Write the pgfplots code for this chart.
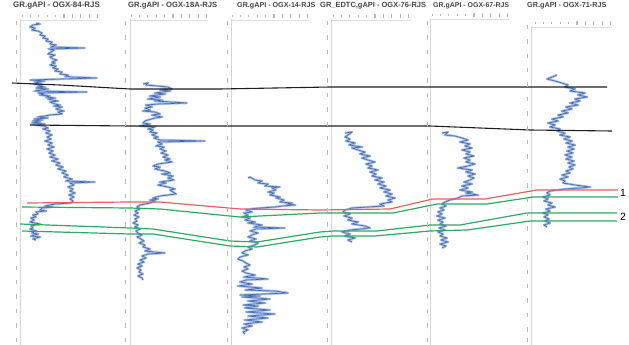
\documentclass[border=0pt]{standalone}
\usepackage{pgfplots}
\usepackage{pgfplotstable}
\pgfplotsset{compat=1.18}
\usepackage{fontspec}
\setmainfont{Liberation Sans}
\definecolor{grdark}{RGB}{62,100,172}
\definecolor{grlight}{RGB}{140,172,222}
\definecolor{corred}{RGB}{228,96,96}
\definecolor{corgreen}{RGB}{46,168,98}
\definecolor{corblack}{RGB}{30,30,30}
\definecolor{ttl}{RGB}{70,70,70}
\definecolor{trk}{RGB}{212,212,212}
\definecolor{dep}{RGB}{185,185,185}

\pgfplotstableread[row sep=\\]{x y\\
36 23\\ 40 24\\ 33 25\\ 30 27\\ 35 28\\ 32 30\\ 38 31\\ 42 33\\ 40 35\\ 45 36\\ 43 38\\ 48 39\\ 46 41\\ 52 42\\ 50 44\\ 56 45\\ 51 47\\ 85 48\\ 49 49\\ 54 50\\ 51 52\\ 48 54\\ 55 55\\ 50 57\\ 53 59\\ 57 60\\ 52 62\\ 55 63\\ 50 65\\ 56 66\\ 53 68\\ 58 69\\ 55 71\\ 62 72\\ 60 74\\ 68 75\\ 65 76\\ 72 77\\ 97 78\\ 62 79\\ 30 80\\ 45 81\\ 35 82\\ 40 83\\ 33 84\\ 42 85\\ 38 86\\ 45 87\\ 36 88\\ 48 89\\ 40 90\\ 35 91\\ 87 92\\ 38 93\\ 44 94\\ 40 95\\ 50 96\\ 46 97\\ 55 98\\ 48 99\\ 52 100\\ 58 101\\ 50 102\\ 55 104\\ 60 105\\ 54 106\\ 62 107\\ 56 109\\ 60 110\\ 64 111\\ 58 112\\ 62 114\\ 50 115\\ 45 116\\ 38 117\\ 48 118\\ 34 119\\ 42 120\\ 33 121\\ 40 122\\ 32 123\\ 45 124\\ 35 125\\ 44 126\\ 48 128\\ 43 129\\ 50 131\\ 46 133\\ 52 135\\ 47 137\\ 51 139\\ 45 141\\ 52 143\\ 48 145\\ 54 147\\ 47 149\\ 53 151\\ 49 153\\ 55 155\\ 50 157\\ 58 159\\ 52 161\\ 60 163\\ 56 165\\ 63 167\\ 58 169\\ 66 171\\ 62 173\\ 68 175\\ 64 177\\ 72 179\\ 66 181\\ 95 182\\ 70 183\\ 74 185\\ 68 187\\ 73 189\\ 70 191\\ 75 193\\ 69 195\\ 74 197\\ 70 199\\ 73 201\\ 71 203\\ 55 204\\ 50 205\\ 45 206\\ 52 207\\ 42 208\\ 40 210\\ 46 211\\ 36 212\\ 38 214\\ 33 215\\ 36 217\\ 31 218\\ 34 220\\ 30 222\\ 35 223\\ 40 224\\ 31 226\\ 33 228\\ 30 229\\ 36 231\\ 32 233\\ 38 234\\ 31 236\\ 40 237\\ 33 239\\ 36 240\\
}\wellA

\pgfplotstableread[row sep=\\]{x y\\
143 84\\ 148 83\\ 146 85\\ 168 87\\ 172 89\\ 160 90\\ 170 91\\ 155 93\\ 165 94\\ 150 96\\ 160 97\\ 148 99\\ 162 100\\ 155 101\\ 187 103\\ 158 104\\ 146 105\\ 152 107\\ 145 108\\ 150 110\\ 143 111\\ 155 112\\ 160 114\\ 152 115\\ 162 117\\ 155 118\\ 148 120\\ 145 121\\ 143 123\\ 150 124\\ 140 126\\ 155 127\\ 148 129\\ 153 130\\ 150 132\\ 157 133\\ 152 135\\ 158 137\\ 154 138\\ 160 140\\ 205 141\\ 158 142\\ 162 144\\ 156 146\\ 164 147\\ 160 149\\ 166 151\\ 161 153\\ 168 155\\ 163 157\\ 170 159\\ 165 160\\ 172 162\\ 158 164\\ 153 166\\ 160 167\\ 155 169\\ 165 171\\ 170 173\\ 162 174\\ 173 176\\ 168 178\\ 174 180\\ 160 182\\ 166 183\\ 158 185\\ 168 187\\ 175 189\\ 170 190\\ 173 192\\ 176 194\\ 160 196\\ 153 198\\ 158 199\\ 150 200\\ 155 201\\ 150 203\\ 140 205\\ 137 207\\ 140 209\\ 135 211\\ 138 213\\ 134 215\\ 139 217\\ 135 219\\ 137 221\\ 133 223\\ 138 225\\ 135 227\\ 140 229\\ 136 231\\ 138 233\\ 142 235\\ 137 237\\ 141 239\\ 144 241\\ 139 243\\ 145 245\\ 143 247\\ 150 249\\ 145 251\\ 165 253\\ 148 254\\ 142 256\\ 146 258\\ 140 260\\ 144 262\\ 138 264\\ 142 266\\ 137 268\\ 141 270\\ 139 272\\ 143 274\\ 138 276\\ 142 278\\ 143 280\\
}\wellB

\pgfplotstableread[row sep=\\]{x y\\
248 178\\ 250 177\\ 255 180\\ 262 181\\ 258 183\\ 268 184\\ 265 186\\ 280 187\\ 272 188\\ 276 190\\ 268 192\\ 274 193\\ 270 195\\ 280 197\\ 276 198\\ 284 200\\ 280 202\\ 292 203\\ 287 204\\ 295 205\\ 282 206\\ 275 207\\ 260 208\\ 250 209\\ 246 210\\ 252 212\\ 244 213\\ 248 215\\ 242 217\\ 250 218\\ 245 220\\ 255 222\\ 248 223\\ 262 225\\ 254 227\\ 285 228\\ 256 229\\ 250 231\\ 258 233\\ 252 235\\ 248 237\\ 256 239\\ 250 241\\ 258 243\\ 255 245\\ 248 247\\ 252 249\\ 245 251\\ 242 253\\ 248 255\\ 240 257\\ 238 259\\ 243 261\\ 246 263\\ 250 265\\ 244 267\\ 248 269\\ 242 271\\ 246 273\\ 255 275\\ 244 277\\ 268 279\\ 246 280\\ 240 282\\ 252 284\\ 238 286\\ 262 288\\ 245 290\\ 275 291\\ 288 293\\ 240 295\\ 260 296\\ 242 297\\ 270 299\\ 248 301\\ 265 303\\ 243 305\\ 258 306\\ 245 308\\ 270 310\\ 246 312\\ 275 314\\ 248 316\\ 268 318\\ 245 320\\ 262 322\\ 244 324\\ 252 326\\ 242 328\\ 248 330\\ 243 332\\ 245 334\\
}\wellC

\pgfplotstableread[row sep=\\]{x y\\
345 133\\ 352 132\\ 348 135\\ 345 137\\ 350 139\\ 346 141\\ 355 143\\ 349 145\\ 362 147\\ 352 148\\ 358 150\\ 365 152\\ 360 154\\ 370 156\\ 362 158\\ 368 160\\ 375 162\\ 366 164\\ 372 166\\ 368 168\\ 378 170\\ 370 172\\ 376 174\\ 372 176\\ 382 178\\ 375 180\\ 384 182\\ 378 184\\ 386 186\\ 380 188\\ 390 190\\ 384 192\\ 392 194\\ 386 196\\ 395 198\\ 388 200\\ 392 202\\ 380 204\\ 384 206\\ 368 207\\ 352 208\\ 345 210\\ 343 212\\ 350 214\\ 344 216\\ 352 218\\ 348 220\\ 358 222\\ 352 224\\ 365 226\\ 370 228\\ 350 230\\ 342 232\\ 350 234\\ 345 236\\ 355 238\\ 348 240\\ 352 242\\
}\wellD

\pgfplotstableread[row sep=\\]{x y\\
442 133\\ 448 132\\ 445 135\\ 455 136\\ 462 138\\ 468 140\\ 460 142\\ 470 144\\ 465 146\\ 472 148\\ 462 150\\ 470 152\\ 466 154\\ 474 156\\ 464 158\\ 470 160\\ 466 162\\ 475 164\\ 468 166\\ 458 168\\ 472 170\\ 466 172\\ 475 174\\ 468 176\\ 474 178\\ 470 180\\ 464 182\\ 472 184\\ 462 186\\ 468 188\\ 460 190\\ 472 192\\ 466 193\\ 478 195\\ 462 196\\ 458 198\\ 450 200\\ 445 202\\ 442 204\\ 446 206\\ 440 208\\ 444 210\\ 438 212\\ 442 214\\ 437 216\\ 445 218\\ 438 220\\ 443 222\\ 440 224\\ 446 226\\ 439 228\\ 445 230\\ 438 232\\ 443 234\\ 440 236\\ 447 238\\ 441 240\\ 448 242\\ 440 244\\ 446 246\\ 442 248\\
}\wellE

\pgfplotstableread[row sep=\\]{x y\\
557 75\\ 552 77\\ 547 79\\ 555 81\\ 562 83\\ 568 85\\ 565 87\\ 575 89\\ 570 91\\ 585 93\\ 578 95\\ 587 97\\ 575 99\\ 580 101\\ 570 103\\ 578 105\\ 566 107\\ 572 109\\ 562 111\\ 568 113\\ 558 115\\ 563 117\\ 552 119\\ 558 121\\ 548 123\\ 555 125\\ 550 127\\ 560 129\\ 557 131\\ 565 133\\ 560 135\\ 570 137\\ 564 139\\ 572 141\\ 566 143\\ 575 145\\ 568 147\\ 574 149\\ 567 151\\ 573 153\\ 565 155\\ 572 157\\ 566 159\\ 574 161\\ 568 163\\ 575 165\\ 569 167\\ 573 169\\ 566 171\\ 570 173\\ 562 175\\ 568 177\\ 560 179\\ 565 181\\ 563 183\\ 575 185\\ 590 187\\ 580 188\\ 565 189\\ 550 191\\ 547 193\\ 550 195\\ 543 197\\ 548 199\\ 544 201\\ 552 203\\ 548 205\\ 555 207\\ 546 209\\ 550 211\\ 543 213\\ 548 215\\ 544 217\\ 549 219\\ 545 221\\ 550 223\\ 544 225\\ 547 227\\
}\wellF

\pgfplotstableread[row sep=\\]{y w\\
23 27\\ 37.4 41.4\\ 51.8 55.8\\ 66.2 70.2\\ 80.6 84.6\\ 95 99\\ 109.4 113.4\\ 123.8 127.8\\ 138.2 142.2\\ 152.6 156.6\\ 167 171\\ 181.4 185.4\\ 195.8 199.8\\ 210.2 214.2\\ 224.6 228.6\\ 239 243\\ 253.4 257.4\\ 267.8 271.8\\ 282.2 286.2\\ 296.6 300.6\\ 311 315\\ 325.4 329.4\\ 339.8 339.8\\
}\depthrows

\begin{document}
\begin{tikzpicture}
\begin{axis}[hide axis, scale only axis, width=629bp, height=345bp,
  xmin=0, xmax=629, ymin=0, ymax=345, y dir=reverse, clip=false]

% track border lines
\addplot[trk, line width=0.6pt] coordinates {(20,19) (20,345)};
\addplot[trk, line width=0.6pt] coordinates {(130,19) (130,345)};
\addplot[trk, line width=0.6pt] coordinates {(231,19) (231,345)};
\addplot[trk, line width=0.6pt] coordinates {(331,19) (331,345)};
\addplot[trk, line width=0.6pt] coordinates {(430,19) (430,345)};
\addplot[trk, line width=0.6pt] coordinates {(531,26) (531,345)};
% faint top borders
\addplot[trk!70, line width=0.4pt] coordinates {(21,20) (98,20)};
\addplot[trk!70, line width=0.4pt] coordinates {(131,20) (208,20)};
\addplot[trk!70, line width=0.4pt] coordinates {(232,20) (309,20)};
\addplot[trk!70, line width=0.4pt] coordinates {(332,20) (411,20)};
\addplot[trk!70, line width=0.4pt] coordinates {(431,19) (509,19)};
\addplot[trk!70, line width=0.4pt] coordinates {(532,27) (612,27)};

% depth labels (illegible small tick labels)
\addplot[only marks, mark=|, mark size=2.2pt, mark options={line width=1pt, draw=dep}] table[x expr=16, y=y] {\depthrows};
\addplot[only marks, mark=|, mark size=2.2pt, mark options={line width=1pt, draw=dep}] table[x expr=125, y=y] {\depthrows};
\addplot[only marks, mark=|, mark size=2.2pt, mark options={line width=1pt, draw=dep}] table[x expr=227, y=y] {\depthrows};
\addplot[only marks, mark=|, mark size=2.2pt, mark options={line width=1pt, draw=dep}] table[x expr=327, y=y] {\depthrows};
\addplot[only marks, mark=|, mark size=2.2pt, mark options={line width=1pt, draw=dep}] table[x expr=427, y=y] {\depthrows};
\addplot[only marks, mark=|, mark size=2.2pt, mark options={line width=1pt, draw=dep}] table[x expr=527, y=w] {\depthrows};

% top scale ticks
\addplot[only marks, mark=|, mark size=0.9pt, mark options={line width=1pt, draw=dep}] coordinates {
(22,16)(30.4,16)(38.8,16)(47.2,16)(55.6,16)
(131,16)(139.4,16)(147.8,16)(156.2,16)(164.6,16)
(232,16)(240.4,16)(248.8,16)(257.2,16)(265.6,16)
(333,16)(341.4,16)(349.8,16)(358.2,16)(366.6,16)
(432,15)(440.4,15)(448.8,15)(457.2,15)(465.6,15)
(535,23)(543.4,23)(551.8,23)(560.2,23)(568.6,23)};
\addplot[only marks, mark=|, mark size=2.2pt, mark options={line width=1.1pt, draw=dep}] coordinates {
(64,16)(72.4,16)(80.8,16)(89.2,16)(97.6,16)
(173,16)(181.4,16)(189.8,16)(198.2,16)(206.6,16)
(274,16)(282.4,16)(290.8,16)(299.2,16)(307.6,16)
(375,16)(383.4,16)(391.8,16)(400.2,16)(408.6,16)
(474,15)(482.4,15)(490.8,15)(499.2,15)(507.6,15)
(577,23)(585.4,23)(593.8,23)(602.2,23)(610.6,23)};

% GR curves: halo then line
\addplot[grlight, line width=2.4pt, opacity=0.75, line join=round] table {\wellA};
\addplot[grdark, line width=0.6pt] table {\wellA};
\addplot[grlight, line width=2.4pt, opacity=0.75, line join=round] table {\wellB};
\addplot[grdark, line width=0.6pt] table {\wellB};
\addplot[grlight, line width=2.4pt, opacity=0.75, line join=round] table {\wellC};
\addplot[grdark, line width=0.6pt] table {\wellC};
\addplot[grlight, line width=2.4pt, opacity=0.75, line join=round] table {\wellD};
\addplot[grdark, line width=0.6pt] table {\wellD};
\addplot[grlight, line width=2.4pt, opacity=0.75, line join=round] table {\wellE};
\addplot[grdark, line width=0.6pt] table {\wellE};
\addplot[grlight, line width=2.4pt, opacity=0.75, line join=round] table {\wellF};
\addplot[grdark, line width=0.6pt] table {\wellF};

% correlation lines
\addplot[corblack, line width=1.1pt] coordinates {(12,83) (60,85) (130,89) (220,89) (330,87) (430,87) (530,87) (607,87)};
\addplot[corblack, line width=1.1pt] coordinates {(30,125) (130,126) (330,126) (430,126) (480,128) (530,130) (612,131)};
\addplot[corred, line width=1.2pt] coordinates {(27,203) (130,202) (160,202) (240,209) (320,210) (390,209) (433,199) (485,199) (537,190) (618,190)};
\addplot[corgreen, line width=1.2pt] coordinates {(22,207) (130,208) (160,209) (240,217) (320,213) (393,213) (437,204) (487,204) (533,197) (618,197)};
\addplot[corgreen, line width=1.2pt] coordinates {(20,224) (130,228) (153,229) (230,241) (257,242) (320,232) (333,231) (377,231) (430,225) (460,225) (527,213) (533,213) (617,213)};
\addplot[corgreen, line width=1.2pt] coordinates {(22,231) (130,234) (153,234) (230,246) (257,247) (320,237) (333,236) (375,236) (430,231) (467,230) (530,221) (617,221)};

% titles
\node[anchor=west, inner sep=0pt, text=ttl, font=\fontsize{8}{9}\selectfont\bfseries] at (axis cs:13,6) {GR.gAPI - OGX-84-RJS};
\node[anchor=west, inner sep=0pt, text=ttl, font=\fontsize{7.7}{9}\selectfont\bfseries] at (axis cs:128,6) {GR.gAPI - OGX-18A-RJS};
\node[anchor=west, inner sep=0pt, text=ttl, font=\fontsize{7.2}{9}\selectfont\bfseries] at (axis cs:237,6) {GR.gAPI - OGX-14-RJS};
\node[anchor=west, inner sep=0pt, text=ttl, font=\fontsize{7.5}{9}\selectfont\bfseries] at (axis cs:320,6) {GR\_EDTC,gAPI - OGX-76-RJS};
\node[anchor=west, inner sep=0pt, text=ttl, font=\fontsize{7}{9}\selectfont\bfseries] at (axis cs:433,6) {GR.gAPI - OGX-67-RJS};
\node[anchor=west, inner sep=0pt, text=ttl, font=\fontsize{7.3}{9}\selectfont\bfseries] at (axis cs:527,6) {GR.gAPI - OGX-71-RJS};

% horizon labels
\node[anchor=west, inner sep=0pt, font=\fontsize{10.5}{12}\selectfont] at (axis cs:620,193) {1};
\node[anchor=west, inner sep=0pt, font=\fontsize{10.5}{12}\selectfont] at (axis cs:620,217) {2};
\end{axis}
\pgfresetboundingbox
\path[use as bounding box] (current axis.south west) rectangle (current axis.north east);
\end{tikzpicture}
\end{document}
